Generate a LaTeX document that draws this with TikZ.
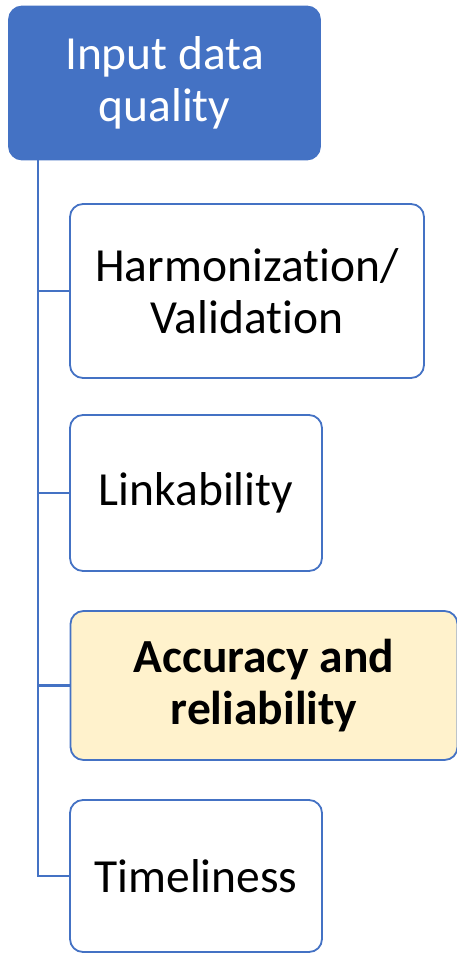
\documentclass[tikz,border=0pt]{standalone}
\usepackage{fontspec}
\setmainfont{Carlito}[Ligatures=NoCommon]
\definecolor{accent}{HTML}{4472C4}
\definecolor{hilite}{HTML}{FFF2CC}
\begin{document}
\begin{tikzpicture}[x=1pt,y=-1pt,
  rootbox/.style={draw=accent,fill=accent,line width=1.8pt,rounded corners=13pt,
    text=white,align=center,inner sep=0pt,font=\fontsize{47.5}{52}\selectfont},
  itembox/.style={draw=accent,fill=white,line width=1.8pt,rounded corners=13pt,
    text=black,align=center,inner sep=0pt,font=\fontsize{47.5}{52}\selectfont},
  conn/.style={draw=accent,line width=2.2pt}]
\useasboundingbox (0,0) rectangle (457,953);
\node[rootbox,minimum width=311pt,minimum height=153pt] (top) at (164.5,83) {Input data\\quality};
\node[itembox,minimum width=354pt,minimum height=174pt] (h1) at (247,291) {Harmonization/\\Validation};
\node[itembox,minimum width=252pt,minimum height=156pt] (h2) at (196,493) {Linkability};
\node[itembox,fill=hilite,minimum width=387pt,minimum height=149pt,font=\fontsize{47.5}{52}\selectfont\bfseries] (h3) at (264,685.5) {Accuracy and\\reliability};
\node[itembox,minimum width=252pt,minimum height=152pt] (h4) at (196,876) {Timeliness};
\coordinate (s) at ([xshift=30pt]top.south west);
\draw[conn] (s) |- (h4.west);
\draw[conn] (s |- h1.west) -- (h1.west);
\draw[conn] (s |- h2.west) -- (h2.west);
\draw[conn] (s |- h3.west) -- (h3.west);
\end{tikzpicture}
\end{document}
